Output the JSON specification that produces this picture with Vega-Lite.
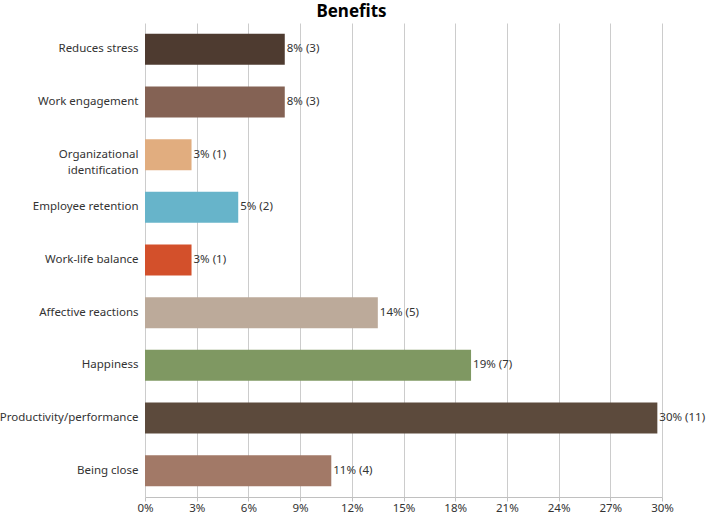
{
  "$schema": "https://vega.github.io/schema/vega-lite/v6.json",
  "width": 517,
  "height": 474,
  "autosize": {"type": "none"},
  "padding": {"left": 145, "top": 23, "right": 46, "bottom": 17},
  "background": "white",
  "title": {"text": "Benefits", "fontSize": 17, "fontWeight": "bold", "font": "Noto Sans", "color": "#000000", "anchor": "middle", "dx": -52, "offset": 2},
  "config": {
    "view": {"stroke": null},
    "font": "Noto Sans"
  },
  "data": {
    "values": [
      {"benefit": "Reduces stress", "pct": 8.11, "count": 3, "label": "8% (3)", "color": "#4e3b30"},
      {"benefit": "Work engagement", "pct": 8.11, "count": 3, "label": "8% (3)", "color": "#846254"},
      {"benefit": "Organizational identification", "pct": 2.7, "count": 1, "label": "3% (1)", "color": "#e1ad7f"},
      {"benefit": "Employee retention", "pct": 5.41, "count": 2, "label": "5% (2)", "color": "#67b4ca"},
      {"benefit": "Work-life balance", "pct": 2.7, "count": 1, "label": "3% (1)", "color": "#d3502b"},
      {"benefit": "Affective reactions", "pct": 13.51, "count": 5, "label": "14% (5)", "color": "#bcaa9a"},
      {"benefit": "Happiness", "pct": 18.92, "count": 7, "label": "19% (7)", "color": "#7f9862"},
      {"benefit": "Productivity/performance", "pct": 29.73, "count": 11, "label": "30% (11)", "color": "#5c4a3c"},
      {"benefit": "Being close", "pct": 10.81, "count": 4, "label": "11% (4)", "color": "#a27967"}
    ]
  },
  "encoding": {
    "y": {
      "field": "benefit", "type": "nominal", "sort": null, "title": null,
      "scale": {"paddingInner": 0.41, "paddingOuter": 0.205},
      "axis": {
        "domain": false, "ticks": false, "grid": false, "labelPadding": 7,
        "labelFontSize": 11.5, "labelColor": "#333333", "labelLimit": 200, "labelLineHeight": 16,
        "labelExpr": "datum.value == 'Organizational identification' ? ['Organizational', 'identification'] : datum.value"
      }
    }
  },
  "layer": [
    {
      "mark": {"type": "bar"},
      "encoding": {
        "x": {
          "field": "pct", "type": "quantitative", "title": null,
          "scale": {"domain": [0, 30], "nice": false},
          "axis": {
            "values": [0, 3, 6, 9, 12, 15, 18, 21, 24, 27, 30],
            "labelExpr": "datum.value + '%'", "labelFlush": false,
            "grid": true, "gridColor": "#cccccc", "gridWidth": 1,
            "domainColor": "#c0c0c0", "tickColor": "#c0c0c0", "tickSize": 4,
            "labelFontSize": 11.5, "labelColor": "#333333", "labelPadding": 1
          }
        },
        "color": {"field": "color", "type": "nominal", "scale": null}
      }
    },
    {
      "mark": {"type": "text", "align": "left", "baseline": "middle", "dx": 2, "fontSize": 11.5, "color": "#333333"},
      "encoding": {
        "x": {"field": "pct", "type": "quantitative"},
        "text": {"field": "label"}
      }
    }
  ]
}
